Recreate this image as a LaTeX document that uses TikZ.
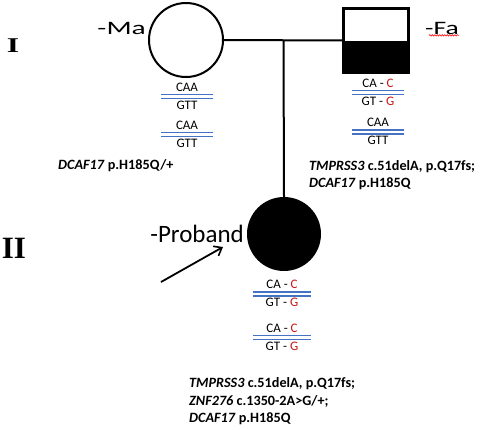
\documentclass[tikz,border=0pt]{standalone}
\usepackage{fontspec}
\setmainfont{Carlito}
\newfontfamily\gennum{Liberation Serif}
\usetikzlibrary{calc,arrows.meta,decorations.pathmorphing}
\definecolor{dnablue}{RGB}{68,114,196}
\definecolor{altred}{RGB}{200,20,20}
\tikzset{
  pedline/.style={line width=2pt},
  dnaline/.style={line width=1.4pt, color=dnablue},
  dnatext/.style={inner sep=0pt, font=\fontsize{13}{13}\selectfont},
  mutation/.style={anchor=west, align=left, inner sep=0pt, font=\fontsize{14.2}{17.6}\selectfont\bfseries},
}
\newcommand{\alt}[1]{\textcolor{altred}{#1}}
\def\dnapair[#1](#2)(#3)#4#5{
  \coordinate (#1) at (#2);
  \draw[dnaline] ($(#1)+(-#3,-1.9)$) -- ($(#1)+(#3,-1.9)$);
  \draw[dnaline] ($(#1)+(-#3,1.9)$) -- ($(#1)+(#3,1.9)$);
  \node[dnatext] (#1-top) at ($(#1)+(0,-9.5)$) {#4};
  \node[dnatext] (#1-bot) at ($(#1)+(0,8.5)$) {#5};}

\begin{document}
\begin{tikzpicture}[x=1pt, y=-1pt]
			%%%%% START %%%%%
			\useasboundingbox (0,0) rectangle (500,429);
			
			% generations
			\node[font=\gennum\fontsize{21}{21}\selectfont\bfseries] (gen1) at (13,46) {\scalebox{1.5}[1]{I}};
			\node[font=\gennum\fontsize{31}{31}\selectfont\bfseries] (gen2) at (14,248) {II};
			
			% parents
			\node[circle, draw, pedline, minimum size=74pt, inner sep=0pt] (ma) at (186,40) {};
			\node[draw, pedline, minimum width=64pt, minimum height=63pt, inner sep=0pt] (fa) at (376,40.5) {};
			\fill (fa.west) rectangle (fa.south east);
			\draw[pedline] (fa.north west) rectangle (fa.south east);
			\node[anchor=east, inner sep=0pt, font=\fontsize{19}{19}\selectfont] (malabel) at (146,28) {\scalebox{1.55}[1]{-Ma}};
			\node[anchor=west, inner sep=0pt, font=\fontsize{19}{19}\selectfont] (falabel) at (425,28) {\scalebox{1.45}[1]{-Fa}};
			\draw[red, line width=0.6pt, decorate, decoration={snake, amplitude=0.7pt, segment length=2.5pt}] (falabel.south west) ++(4,1) -- ++(30,0);
			
			\draw[pedline] (ma.east) -- (fa.west);
			\coordinate (sibship) at ($(ma.east)!0.5!(fa.west)$);
			
			% proband
			\node[circle, fill=black, draw, pedline, minimum size=72pt, inner sep=0pt] (pro) at (284,234) {};
			\draw[pedline] (sibship) -- (pro.north);
			\node[anchor=east, inner sep=0pt, font=\fontsize{25}{25}\selectfont] (prolabel) at (244,234) {-Proband};
			\coordinate (arrowtail) at (161,282);
			\coordinate (arrowhead) at (223,247);
			\draw[line width=1.8pt, -{Straight Barb[length=7pt, width=11pt, line width=1.6pt]}] (arrowtail) -- (arrowhead);
			
			% alleles
			\dnapair[madna1](187,96.5)(26){CAA}{GTT}
			\dnapair[madna2](187,134.5)(26){CAA}{GTT}
			\dnapair[fadna1](378,92.5)(26){CA - \alt{C}}{GT - \alt{G}}
			\dnapair[fadna2](378,132)(26){CAA}{GTT}
			\dnapair[prodna1](282,294)(29){CA - \alt{C}}{GT - \alt{G}}
			\dnapair[prodna2](282,337.5)(29){CA - \alt{C}}{GT - \alt{G}}
			
			% variants
			\node[mutation] (mavar) at (58,166) {\textit{DCAF17} p.H185Q/+};
			\node[mutation] (favar) at (309,175) {\textit{TMPRSS3} c.51delA, p.Q17fs;\\\textit{DCAF17} p.H185Q};
			\node[mutation] (provar) at (189,401.5) {\textit{TMPRSS3} c.51delA, p.Q17fs;\\\textit{ZNF276} c.1350-2A>G/+;\\\textit{DCAF17} p.H185Q};
			
			%%%%% END %%%%%
		\end{tikzpicture}
\end{document}
